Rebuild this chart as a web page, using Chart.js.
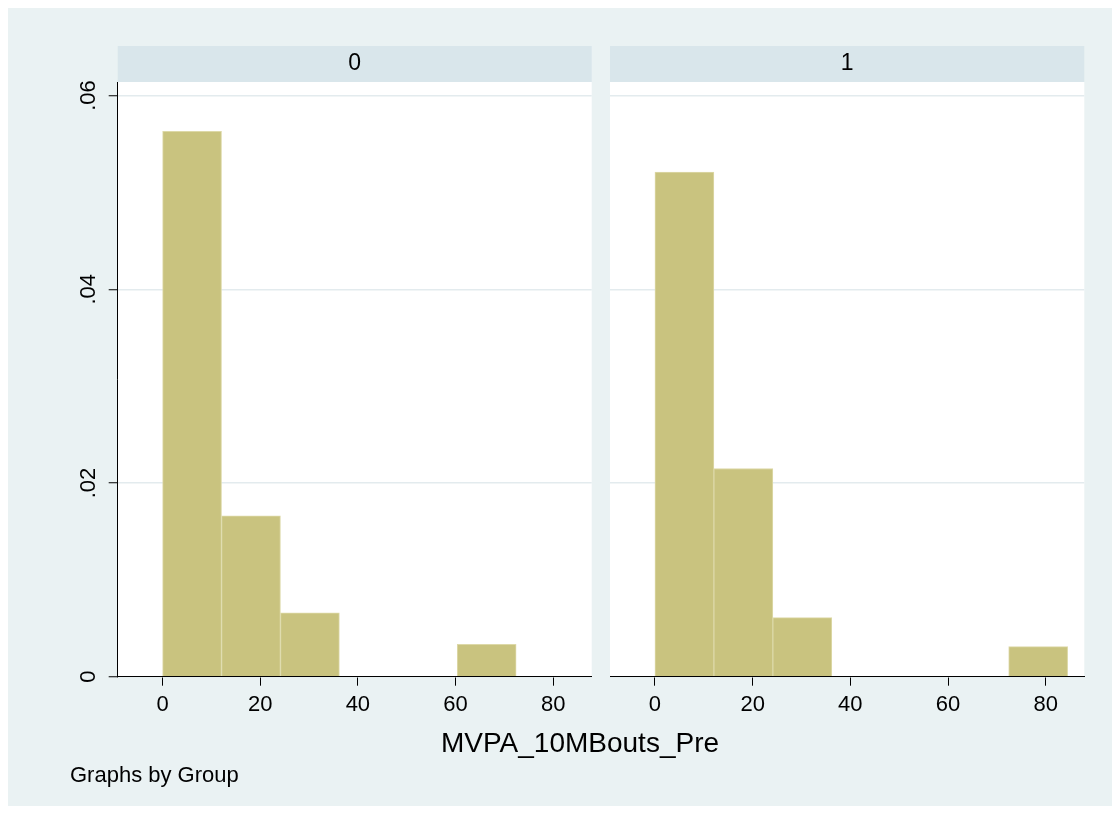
<!DOCTYPE html>
<html><head><meta charset="utf-8">
<script src="https://cdn.jsdelivr.net/npm/chart.js@4.4.0/dist/chart.umd.min.js"></script>
<style>
html,body{margin:0;padding:0;background:#fff;}
#wrap{position:relative;width:1120px;height:814px;overflow:hidden;}
#bg{position:absolute;left:8px;top:8px;width:1104px;height:798px;background:#eaf2f3;}
canvas{position:absolute;left:0;top:0;}
.txt{position:absolute;font-family:'Liberation Sans',Arial,sans-serif;color:#000;white-space:nowrap;}
</style></head><body>
<div id="wrap"><div id="bg"></div>
<canvas id="c0" width="1120" height="814"></canvas>
<canvas id="c1" width="1120" height="814"></canvas>
<div class="txt" id="xt" style="left:280px;top:729px;width:600px;text-align:center;font-size:28px;line-height:28px;"></div>
<div class="txt" id="note" style="left:70px;top:764px;font-size:22px;line-height:22px;"></div>
</div>
<script>
// ---- data ----
const groups = ['0', '1'];
const binStarts = [0, 12.07, 24.14, 36.21, 48.28, 60.35, 72.42];
const binWidth = 12.07;
const density0 = [0.0563, 0.0166, 0.0066, 0, 0, 0.00335, 0];
const density1 = [0.0521, 0.0215, 0.0061, 0, 0, 0, 0.0031];
const xTicks = [0, 20, 40, 60, 80];
const xTickLabels = ['0', '20', '40', '60', '80'];
const yTicks = [0, 0.02, 0.04, 0.06];
const yTickLabels = ['0', '.02', '.04', '.06'];
const xTitle = 'MVPA_10MBouts_Pre';
const noteText = 'Graphs by Group';

document.getElementById('xt').textContent = xTitle;
document.getElementById('note').textContent = noteText;

const F = "'Liberation Sans', Arial, sans-serif";

const panelPlugin = {
  id: 'panel',
  beforeDraw(chart) {
    const {ctx, chartArea: a} = chart;
    ctx.save();
    ctx.fillStyle = '#ffffff';
    ctx.fillRect(a.left, a.top, a.right - a.left, a.bottom - a.top);
    ctx.fillStyle = '#d9e6eb';
    ctx.fillRect(a.left, 46, a.right - a.left, a.top - 46);
    ctx.restore();
  }
};

function makeChart(id, idx, dens, showY, padLeft, padRight) {
  const yScale = showY ? {
    min: 0, max: 0.0614,
    afterBuildTicks: s => { s.ticks = yTicks.map(v => ({value: v})); },
    ticks: {
      callback: v => yTickLabels[yTicks.indexOf(v)],
      color: '#000', font: {family: F, size: 22}, padding: 4.4,
      minRotation: 90, maxRotation: 90, crossAlign: 'center', autoSkip: false
    },
    grid: {color: '#e3ebee', lineWidth: 1.5, tickColor: '#000', tickWidth: 1, tickLength: 9, drawTicks: true},
    border: {display: true, color: '#000', width: 1},
    afterFit: s => { s.width = 60; }
  } : {
    min: 0, max: 0.0614,
    afterBuildTicks: s => { s.ticks = yTicks.map(v => ({value: v})); },
    ticks: {display: false},
    grid: {color: '#e3ebee', lineWidth: 1.5, drawTicks: false},
    border: {display: false},
    afterFit: s => { s.width = 0; }
  };
  return new Chart(document.getElementById(id), {
    type: 'bar',
    data: {
      datasets: [{
        data: binStarts.map((s, i) => ({x: s + binWidth / 2, y: dens[i]})),
        backgroundColor: '#c9c37f',
        borderColor: '#ddd9a8',
        borderWidth: 1,
        categoryPercentage: 1,
        barPercentage: 1
      }]
    },
    options: {
      responsive: false, animation: false, devicePixelRatio: 1,
      layout: {padding: {left: padLeft, right: padRight, top: 46, bottom: 77.3}},
      plugins: {
        legend: {display: false},
        tooltip: {enabled: false},
        title: {
          display: true, text: groups[idx], fullSize: false, color: '#000',
          font: {family: F, size: 23, weight: 'normal'},
          padding: {top: 4.2, bottom: 4.2}
        }
      },
      scales: {
        x: {
          type: 'linear', min: -9.2, max: 87.9, offset: false,
          afterBuildTicks: s => { s.ticks = xTicks.map(v => ({value: v})); },
          ticks: {
            callback: v => xTickLabels[xTicks.indexOf(v)],
            color: '#000', font: {family: F, size: 22}, padding: 6.1,
            maxRotation: 0, minRotation: 0, autoSkip: false
          },
          grid: {offset: false, drawOnChartArea: false, drawTicks: true, tickLength: 9, color: '#000', lineWidth: 1},
          border: {display: true, color: '#000', width: 1},
          afterFit: s => { s.height = 60; }
        },
        y: yScale
      }
    },
    plugins: [panelPlugin]
  });
}

makeChart('c0', 0, density0, true, 57.7, 528.3);
makeChart('c1', 1, density1, false, 610, 35.7);
</script>
</body></html>
